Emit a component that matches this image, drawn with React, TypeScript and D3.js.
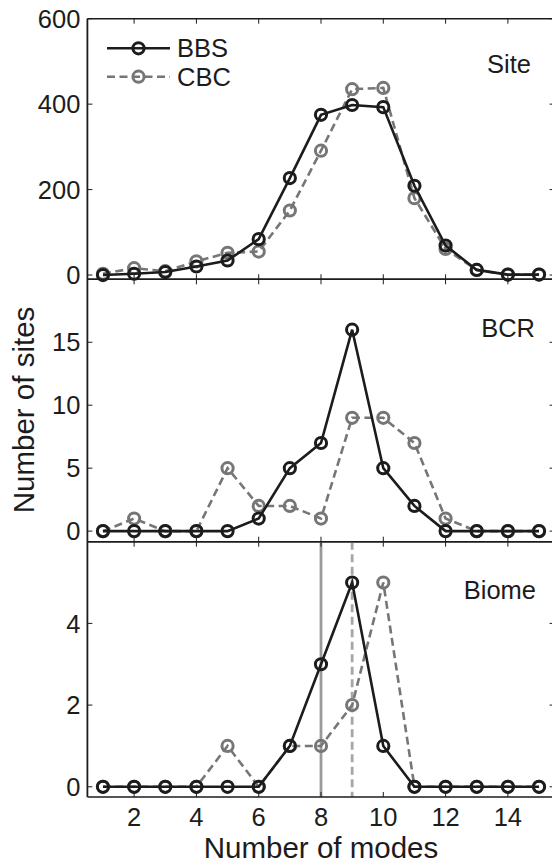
import React from "react";
import * as d3 from "d3";

// ---- data ----
const modes = [1, 2, 3, 4, 5, 6, 7, 8, 9, 10, 11, 12, 13, 14, 15];
const seriesNames = ["BBS", "CBC"];
const panelNames = ["Site", "BCR", "Biome"];

const siteBBS = [0, 3, 7, 20, 34, 84, 227, 375, 398, 393, 209, 69, 12, 1, 1];
const siteCBC = [3, 16, 9, 32, 52, 55, 151, 291, 435, 438, 180, 61, 12, 1, 1];
const bcrBBS = [0, 0, 0, 0, 0, 1, 5, 7, 16, 5, 2, 0, 0, 0, 0];
const bcrCBC = [0, 1, 0, 0, 5, 2, 2, 1, 9, 9, 7, 1, 0, 0, 0];
const biomeBBS = [0, 0, 0, 0, 0, 0, 1, 3, 5, 1, 0, 0, 0, 0, 0];
const biomeCBC = [0, 0, 0, 0, 1, 0, 1, 1, 2, 5, 0, 0, 0, 0, 0];
const biomeModeBBS = 8;
const biomeModeCBC = 9;

const xTicks = [2, 4, 6, 8, 10, 12, 14];
const siteTicks = [0, 200, 400, 600];
const bcrTicks = [0, 5, 10, 15];
const biomeTicks = [0, 2, 4];

const xLabel = "Number of modes";
const yLabel = "Number of sites";

// ---- layout ----
const W = 552;
const H = 867;
const X0 = 87.4;
const X1 = 554.6;
const FONT = "'Liberation Sans', Arial, Helvetica, sans-serif";
const BLACK = "#1c1c1c";
const GRAY = "#767676";
const TICK = 5;
const DASH = "8,4.5";
const R = 5.6;
const MSW = 3;
const LW = 2.6;
const FS = 25.5;

const panels = [
  { name: panelNames[0], top: 18.7, bottom: 279.3, domain: [-10, 600], ticks: siteTicks, bbs: siteBBS, cbc: siteCBC, labelX: 531, labelY: 73 },
  { name: panelNames[1], top: 279.3, bottom: 541.7, domain: [-0.84, 20], ticks: bcrTicks, bbs: bcrBBS, cbc: bcrCBC, labelX: 535, labelY: 337 },
  { name: panelNames[2], top: 541.7, bottom: 797, domain: [-0.25, 6], ticks: biomeTicks, bbs: biomeBBS, cbc: biomeCBC, labelX: 536, labelY: 599 },
];

const x = d3.scaleLinear().domain([0.5, 15.5]).range([X0, X1]);

function Panel({ p, idx }: { p: any; idx: number }) {
  const y = d3.scaleLinear().domain(p.domain).range([p.bottom, p.top]);
  const line = d3
    .line<number>()
    .x((_, i) => x(modes[i]))
    .y((v) => y(v));
  const isLast = idx === panels.length - 1;
  return (
    <g>
      {isLast && (
        <g>
          <line x1={x(biomeModeBBS)} x2={x(biomeModeBBS)} y1={p.top} y2={p.bottom} stroke="#9a9a9a" strokeWidth={2.8} />
          <line x1={x(biomeModeCBC)} x2={x(biomeModeCBC)} y1={p.top} y2={p.bottom} stroke="#a6a6a6" strokeWidth={2.8} strokeDasharray={DASH} />
        </g>
      )}
      {/* frame */}
      <line x1={X0} x2={X1} y1={p.top} y2={p.top} stroke={BLACK} strokeWidth={1.6} />
      <line x1={X0} x2={X1} y1={p.bottom} y2={p.bottom} stroke={BLACK} strokeWidth={1.6} />
      <line x1={X0} x2={X0} y1={p.top} y2={p.bottom} stroke={BLACK} strokeWidth={1.8} />
      <line x1={X1} x2={X1} y1={p.top} y2={p.bottom} stroke={BLACK} strokeWidth={1.6} />
      {/* x ticks inward */}
      {xTicks.map((t) => (
        <g key={"xt" + t}>
          <line x1={x(t)} x2={x(t)} y1={p.bottom} y2={p.bottom - TICK} stroke={BLACK} strokeWidth={1} />
          <line x1={x(t)} x2={x(t)} y1={p.top} y2={p.top + TICK} stroke={BLACK} strokeWidth={1} />
        </g>
      ))}
      {/* y ticks inward */}
      {p.ticks.map((t: number) => (
        <g key={"yt" + t}>
          <line x1={X0} x2={X0 + TICK} y1={y(t)} y2={y(t)} stroke={BLACK} strokeWidth={1} />
          <line x1={X1} x2={X1 - TICK} y1={y(t)} y2={y(t)} stroke={BLACK} strokeWidth={1} />
          <text x={X0 - 7} y={y(t)} dy="0.36em" textAnchor="end" fontSize={FS} fill={BLACK} fontFamily={FONT}>
            {t}
          </text>
        </g>
      ))}
      {isLast &&
        xTicks.map((t) => (
          <text key={"xl" + t} x={x(t)} y={826} textAnchor="middle" fontSize={FS} fill={BLACK} fontFamily={FONT}>
            {t}
          </text>
        ))}
      {/* CBC series */}
      <path d={line(p.cbc) || ""} fill="none" stroke={GRAY} strokeWidth={LW} strokeDasharray={DASH} />
      {p.cbc.map((v: number, i: number) => (
        <circle key={"c" + i} cx={x(modes[i])} cy={y(v)} r={R} fill="none" stroke={GRAY} strokeWidth={MSW} />
      ))}
      {/* BBS series */}
      <path d={line(p.bbs) || ""} fill="none" stroke={BLACK} strokeWidth={LW} />
      {p.bbs.map((v: number, i: number) => (
        <circle key={"b" + i} cx={x(modes[i])} cy={y(v)} r={R} fill="none" stroke={BLACK} strokeWidth={MSW} />
      ))}
      <text x={p.labelX} y={p.labelY} textAnchor="end" fontSize={FS} fill={BLACK} fontFamily={FONT}>
        {p.name}
      </text>
    </g>
  );
}

function Legend() {
  const rows = [
    { name: seriesNames[0], y: 48.3, color: BLACK, dash: undefined },
    { name: seriesNames[1], y: 76.7, color: GRAY, dash: DASH },
  ];
  return (
    <g>
      {rows.map((r) => (
        <g key={r.name}>
          <line x1={107} x2={170} y1={r.y} y2={r.y} stroke={r.color} strokeWidth={LW} strokeDasharray={r.dash} />
          <circle cx={138.5} cy={r.y} r={R} fill="none" stroke={r.color} strokeWidth={MSW} />
          <text x={177} y={r.y + 9} fontSize={FS} fill={BLACK} fontFamily={FONT}>
            {r.name}
          </text>
        </g>
      ))}
    </g>
  );
}

export default function App() {
  return (
    <svg width={W} height={H} style={{ position: "absolute", left: 0, top: 0, background: "#fff" }}>
      <rect x={0} y={0} width={W} height={H} fill="#fff" />
      {panels.map((p, i) => (
        <Panel key={p.name} p={p} idx={i} />
      ))}
      <Legend />
      <text x={321} y={858} textAnchor="middle" fontSize={29.5} fill={BLACK} fontFamily={FONT}>
        {xLabel}
      </text>
      <text transform="translate(34,410) rotate(-90)" textAnchor="middle" fontSize={29.5} fill={BLACK} fontFamily={FONT}>
        {yLabel}
      </text>
    </svg>
  );
}
